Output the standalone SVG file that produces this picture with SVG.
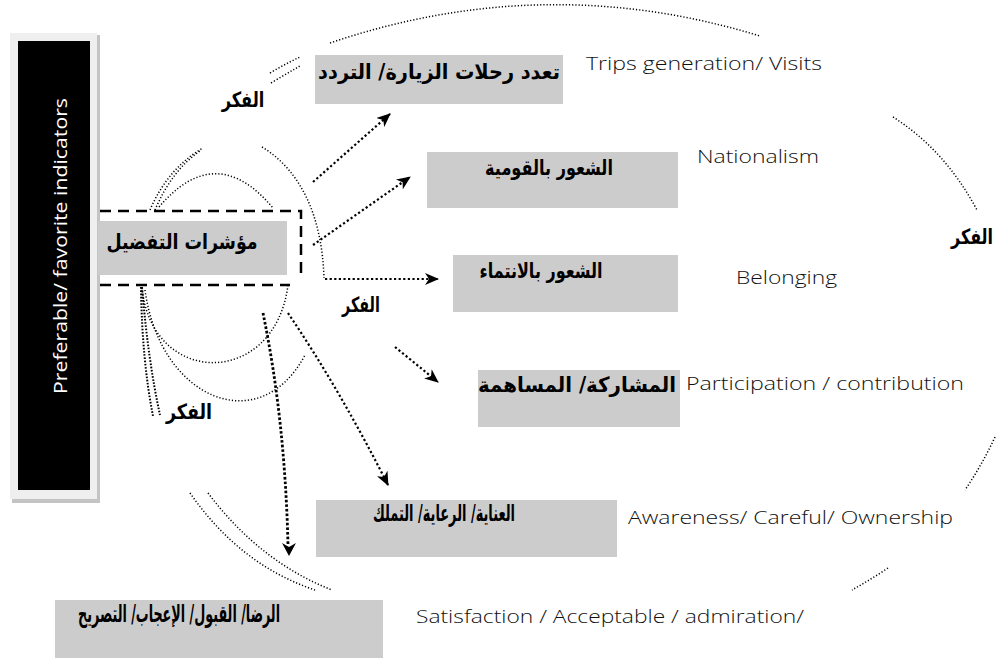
<svg xmlns="http://www.w3.org/2000/svg" width="999" height="658" viewBox="0 0 999 658">
<style>
.box{fill:#cccccc}
.ar{font-family:"DejaVu Sans",sans-serif;font-weight:bold;font-size:21px;fill:#000}
.en{font-family:"Open Sans",sans-serif;font-weight:300;font-size:18px;fill:#111}
.dot{fill:none;stroke:#000;stroke-width:1.5;stroke-dasharray:1.2 2}
.dotd{fill:none;stroke:#000;stroke-width:2;stroke-dasharray:1.6 1.6}
.arr{fill:none;stroke:#000;stroke-width:2.2;stroke-dasharray:2.2 2.4;marker-end:url(#ah)}
.arrv{fill:none;stroke:#000;stroke-width:2.8;stroke-dasharray:2.6 2}
.dash{fill:none;stroke:#000;stroke-width:2.5;stroke-dasharray:11 7}
</style>
<defs>
<marker id="ah" viewBox="0 0 14 12" refX="13" refY="6" markerWidth="14" markerHeight="12" markerUnits="userSpaceOnUse" orient="auto">
<path d="M0,0 L14,6 L0,12 L4,6 z" fill="#000"/>
</marker>
</defs>
<rect width="999" height="658" fill="#fff"/>

<g id="side-label">
<rect x="12" y="35" width="88" height="468" fill="#c4c4c4"/>
<rect x="10" y="33" width="87" height="466" fill="#efefef"/>
<rect x="18" y="41" width="72" height="449" fill="#000"/>
<text class="en" transform="translate(67,246) rotate(-90)" x="0" y="0" text-anchor="middle" style="fill:#fff;font-size:19px;font-weight:400" textLength="296" lengthAdjust="spacingAndGlyphs">Preferable/ favorite indicators</text>
</g>

<g id="connectors">
<path class="dot" d="M330,43 Q545,-30 760,36"/>
<path class="dot" d="M893,117 Q945,150 977,210"/>
<path class="dot" d="M995,437 Q982,465 965,490"/>
<path class="dot" d="M888,568 Q870,580 852,590"/>
<path class="dot" d="M190,493 Q240,565 315,590"/>
<path class="dot" d="M208,493 Q260,562 332,590"/>
<path class="dotd" d="M141,287 Q142,360 153,416"/>
<path class="dotd" d="M142,287 Q148,360 160,415"/>
<path class="dot" d="M270,73 Q285,64 300,57"/>
<path class="dot" d="M271,83 Q286,74 300,66"/>
<path class="dot" d="M150,210 Q168,168 203,148"/>
<path class="dot" d="M155,210 Q172,170 200,151"/>
<path class="dot" d="M159,207 Q216,140 273,208"/>
<path class="dot" d="M262,147 C300,170 322,215 324,278"/>
<path class="dot" d="M142,288 C152,388 275,388 288,285"/>
<path class="dot" d="M145,290 C160,400 260,440 305,355"/>
<path class="arr" d="M313,182 L390,114"/>
<path class="arr" d="M313,245 L410,177"/>
<path class="arr" d="M325,279 L438,279"/>
<path class="arr" d="M395,347 L438,382"/>
<path class="arr" d="M288,313 Q340,390 388,485"/>
<path class="arrv" d="M263,313 Q285,420 288,545"/>
<path d="M282,543 L289,556 L296,543 L289,547 z" fill="#000"/>
<path class="dash" d="M100,211 H301 V277"/>
<path class="dash" d="M100,285 H290"/>
</g>

<g id="center">
<rect class="box" x="98" y="221" width="189" height="54"/>
<text class="ar" transform="translate(182,249) scale(0.6,1)" text-anchor="middle" textLength="252" lengthAdjust="spacingAndGlyphs">مؤشرات التفضيل</text>
</g>

<g id="n1">
<rect class="box" x="315" y="55" width="248" height="49"/>
<text class="ar" transform="translate(439,79) scale(0.6,1)" text-anchor="middle" textLength="403" lengthAdjust="spacingAndGlyphs">تعدد رحلات الزيارة/ التردد</text>
<text class="en" x="586" y="70" textLength="236" lengthAdjust="spacingAndGlyphs">Trips generation/ Visits</text>
</g>
<g id="n2">
<rect class="box" x="427" y="152" width="251" height="56"/>
<text class="ar" transform="translate(549,175) scale(0.6,1)" text-anchor="middle" textLength="213" lengthAdjust="spacingAndGlyphs">الشعور بالقومية</text>
<text class="en" x="697" y="163" textLength="122" lengthAdjust="spacingAndGlyphs">Nationalism</text>
</g>
<g id="n3">
<rect class="box" x="453" y="255" width="225" height="57"/>
<text class="ar" transform="translate(541,278) scale(0.6,1)" text-anchor="middle" textLength="205" lengthAdjust="spacingAndGlyphs">الشعور بالانتماء</text>
<text class="en" x="736" y="284" textLength="101" lengthAdjust="spacingAndGlyphs">Belonging</text>
</g>
<g id="n4">
<rect class="box" x="478" y="370" width="202" height="57"/>
<text class="ar" transform="translate(577,392) scale(0.6,1)" text-anchor="middle" textLength="330" lengthAdjust="spacingAndGlyphs">المشاركة/ المساهمة</text>
<text class="en" x="686" y="390" textLength="278" lengthAdjust="spacingAndGlyphs">Participation / contribution</text>
</g>
<g id="n5">
<rect class="box" x="316" y="500" width="301" height="57"/>
<text class="ar" transform="translate(444,521) scale(0.5,1)" text-anchor="middle" style="font-size:23px" textLength="284" lengthAdjust="spacingAndGlyphs">العناية/ الرعاية/ التملك</text>
<text class="en" x="628" y="524" style="font-size:19px" textLength="325" lengthAdjust="spacingAndGlyphs">Awareness/ Careful/ Ownership</text>
</g>
<g id="n6">
<rect class="box" x="55" y="600" width="328" height="58"/>
<text class="ar" transform="translate(179,622) scale(0.5,1)" text-anchor="middle" style="font-size:24px" textLength="404" lengthAdjust="spacingAndGlyphs">الرضا/ القبول/ الإعجاب/ التصريح</text>
<text class="en" x="416" y="623" textLength="388" lengthAdjust="spacingAndGlyphs">Satisfaction / Acceptable / admiration/</text>
</g>

<g id="labels">
<text class="ar" transform="translate(243,107) scale(0.7,1)" text-anchor="middle" textLength="61" lengthAdjust="spacingAndGlyphs">الفكر</text>
<text class="ar" transform="translate(361,312) scale(0.7,1)" text-anchor="middle" textLength="54" lengthAdjust="spacingAndGlyphs">الفكر</text>
<text class="ar" transform="translate(189,419) scale(0.7,1)" text-anchor="middle" textLength="66" lengthAdjust="spacingAndGlyphs">الفكر</text>
<text class="ar" transform="translate(972,244) scale(0.7,1)" text-anchor="middle" textLength="60" lengthAdjust="spacingAndGlyphs">الفكر</text>
</g>
</svg>
